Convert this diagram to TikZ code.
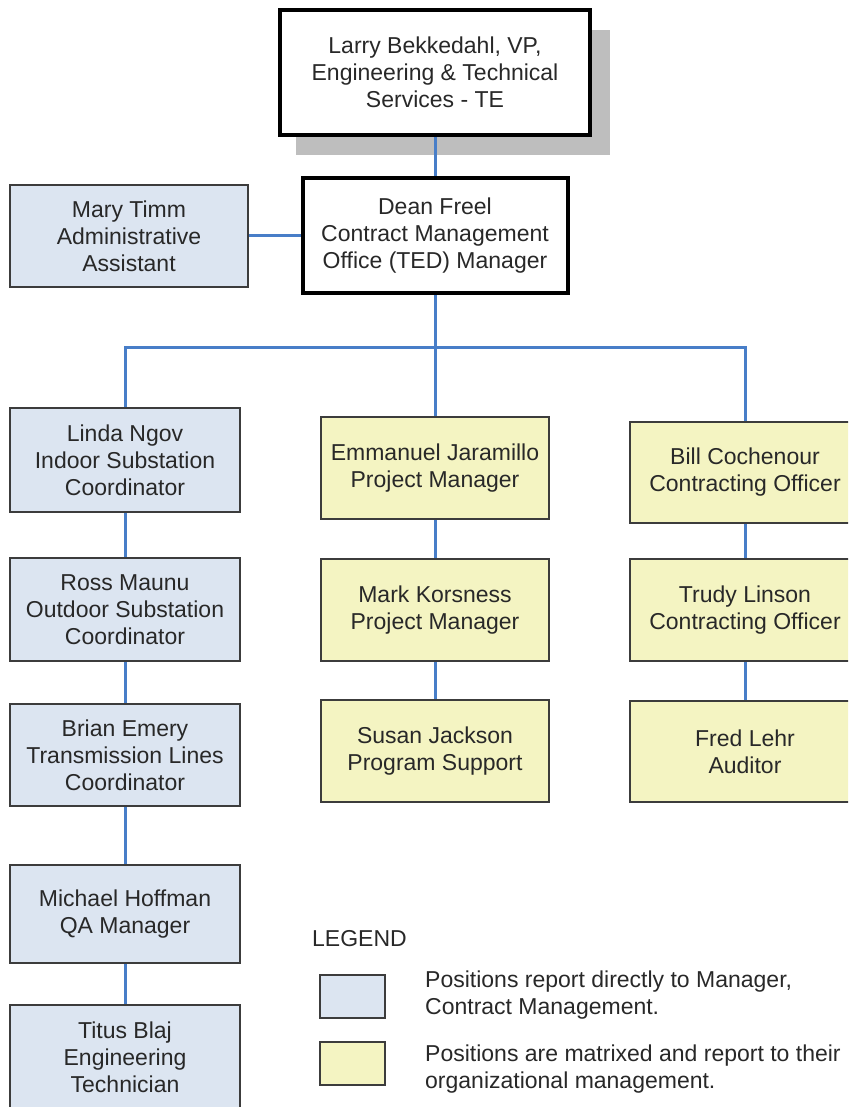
\documentclass[tikz,border=0pt]{standalone}
\usepackage{fontspec}
\setmainfont{Liberation Sans}
\definecolor{bluefill}{RGB}{220,229,241}
\definecolor{yelfill}{RGB}{244,244,194}
\definecolor{conncol}{RGB}{72,126,200}
\definecolor{boxline}{RGB}{60,60,60}
\definecolor{txtcol}{RGB}{40,40,40}
\definecolor{shadowgray}{RGB}{190,190,190}
\begin{document}
\begin{tikzpicture}[x=1pt,y=-1pt,
  box/.style={draw=boxline, line width=2pt, rectangle, align=center, text=txtcol,
    font=\fontsize{23}{27}\selectfont, inner sep=0pt},
  bluebox/.style={box, fill=bluefill},
  yelbox/.style={box, fill=yelfill},
  headbox/.style={box, fill=white, draw=black, line width=4pt},
  conn/.style={draw=conncol, line width=3pt},
  legtext/.style={align=left, text=txtcol, font=\fontsize{23}{27}\selectfont, inner sep=0pt, anchor=west}]
\useasboundingbox (0,0) rectangle (848,1107);
\clip (0,0) rectangle (848,1107);
% shadow of top box
\fill[shadowgray] (296,30) rectangle (610,155);
% boxes
\node[headbox, minimum width=310, minimum height=125] (top) at (435,72.5) {Larry Bekkedahl, VP,\\Engineering \& Technical\\Services - TE};
\node[headbox, minimum width=265, minimum height=115] (dean) at (435,235.5) {Dean Freel\\Contract Management\\Office (TED) Manager};
\node[bluebox, minimum width=238, minimum height=102] (mary) at (129,236) {Mary Timm\\Administrative\\Assistant};
\node[bluebox, minimum width=230, minimum height=104] (linda) at (125,460) {Linda Ngov\\Indoor Substation\\Coordinator};
\node[bluebox, minimum width=230, minimum height=103] (ross) at (125,609.5) {Ross Maunu\\Outdoor Substation\\Coordinator};
\node[bluebox, minimum width=230, minimum height=102] (brian) at (125,755) {Brian Emery\\Transmission Lines\\Coordinator};
\node[bluebox, minimum width=230, minimum height=98] (michael) at (125,914) {Michael Hoffman\\QA Manager};
\node[bluebox, minimum width=230, minimum height=104] (titus) at (125,1057) {Titus Blaj\\Engineering\\Technician};
\node[yelbox, minimum width=228, minimum height=102] (emm) at (435,468) {Emmanuel Jaramillo\\Project Manager};
\node[yelbox, minimum width=228, minimum height=102] (mark) at (435,610) {Mark Korsness\\Project Manager};
\node[yelbox, minimum width=228, minimum height=102] (susan) at (435,751) {Susan Jackson\\Program Support};
\node[yelbox, minimum width=230, minimum height=101] (bill) at (745,472.5) {Bill Cochenour\\Contracting Officer};
\node[yelbox, minimum width=230, minimum height=102] (trudy) at (745,610) {Trudy Linson\\Contracting Officer};
\node[yelbox, minimum width=230, minimum height=101] (fred) at (745,751.5) {Fred Lehr\\Auditor};
% connectors
\coordinate (bus) at (435,347);
\draw[conn] (top.south) -- (dean.north);
\draw[conn] (mary.east) -- (mary.east -| dean.west);
\draw[conn] (dean.south) -- (bus);
\draw[conn] (linda.north) |- (bus) -| (bill.north);
\draw[conn] (bus) -- (emm.north);
\draw[conn] (linda.south) -- (ross.north);
\draw[conn] (ross.south) -- (brian.north);
\draw[conn] (brian.south) -- (michael.north);
\draw[conn] (michael.south) -- (titus.north);
\draw[conn] (emm.south) -- (mark.north);
\draw[conn] (mark.south) -- (susan.north);
\draw[conn] (bill.south) -- (trudy.north);
\draw[conn] (trudy.south) -- (fred.north);
% legend
\node[legtext] (legend) at (312,939) {LEGEND};
\node[bluebox, minimum width=65, minimum height=43] (lb1) at (352.5,996) {};
\node[yelbox, minimum width=65, minimum height=43] (lb2) at (352.5,1063) {};
\node[legtext] (lt1) at (425,995) {Positions report directly to Manager,\\Contract Management.};
\node[legtext] (lt2) at (425,1069) {Positions are matrixed and report to their\\organizational management.};
\end{tikzpicture}
\end{document}
